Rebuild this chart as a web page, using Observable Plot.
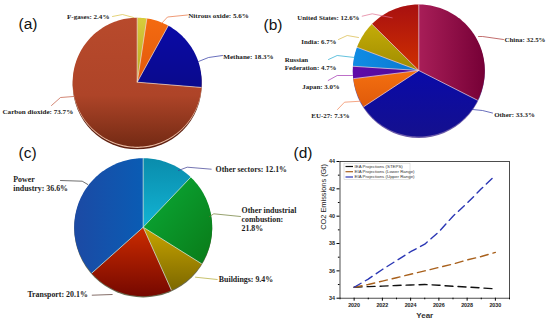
<!DOCTYPE html>
<html><head><meta charset="utf-8">
<style>html,body{margin:0;padding:0;background:#fff}#chart{position:relative;width:550px;height:324px;overflow:hidden}#chart svg{position:absolute;left:0;top:0}</style>
<script src="https://cdn.jsdelivr.net/npm/d3@7"></script>
<script src="https://cdn.jsdelivr.net/npm/@observablehq/plot@0.6"></script>
</head><body><div id="chart"></div>
<script>
// ---- data ----
const gasValues = [2.4, 5.6, 18.3, 73.7];
const gasLabels = ["F-gases: 2.4%", "Nitrous oxide: 5.6%", "Methane: 18.3%", "Carbon dioxide: 73.7%"];
const countryValues = [32.5, 33.3, 7.3, 3.0, 4.7, 6.7, 12.6];
const countryLabels = ["China: 32.5%", "Other: 33.3%", "EU-27: 7.3%", "Japan: 3.0%", "Russian\nFederation: 4.7%", "India: 6.7%", "United States: 12.6%"];
const sectorValues = [12.1, 21.8, 9.4, 20.1, 36.6];
const sectorLabels = ["Other sectors: 12.1%", "Other industrial\ncombustion:\n21.8%", "Buildings: 9.4%", "Transport: 20.1%", "Power\nindustry: 36.6%"];
const years = [2020, 2021, 2022, 2023, 2024, 2025, 2026, 2027, 2028, 2029, 2030];
const ieaSteps = [34.8, 34.85, 34.88, 34.93, 34.97, 35.0, 34.95, 34.87, 34.82, 34.75, 34.68];
const eiaLower = [34.8, 35.0, 35.25, 35.5, 35.75, 36.0, 36.25, 36.5, 36.8, 37.05, 37.35];
const eiaUpper = [34.8, 35.4, 36.1, 36.75, 37.4, 37.95, 38.85, 40.0, 40.95, 42.0, 43.0];
const seriesNames = ["IEA Projections (STEPS)", "EIA Projections (Lower Range)", "EIA Projections (Upper Range)"];

// ---- style and layout ----
const gasPaint = [["#d8cc3c","#b8a820","v"],["#f46a10","#e25a0c","v"],["#0a0aa6","#0a0a8c","v"],["#b84a2c","#742a14","v","#ae4428"]];
const countryPaint = [["#a81e58","#760036","h"],["#0a0aa8","#14108e","v"],["#f47010","#e05a0a","v"],["#600aa8","#4a0a98","h"],["#108ce4","#0a78d0","h"],["#c4ac08","#a08c00","v"],["#a81010","#d03000","v"]];
const sectorPaint = [["#0a8cac","#12b4d4","v"],["#0aac38","#0a7a18","d"],["#c8a400","#7c6800","v"],["#cc2c00","#760800","v"],["#0a5cb4","#1c4aa4","H"]];
const pies = [
  {id:"a", cx:136.7, cy:81.7, r:64.5, values:gasValues, labels:gasLabels, paint:gasPaint, edge:"#f0d8c8",
   rim:[{dy:2.6,fill:"#5e2010"},{dy:1.3,fill:"#e8b8a0"}],
   size:7.1,
   text:[[109,15.5,"end"],[187.7,15,"start"],[222.7,55.5,"start"],[2,111,"start"]],
   lead:[[[112,16],[122,14],[133,17]],[[187,14.5],[167,16.5],[161,23]],[[222,55],[208,57],[198,61]],[[51,105],[60,97],[73,96]]],
   leadColor:["#d8c040","#e8703c","#2a32a0","#c0533a"]},
  {id:"b", cx:418.3, cy:70, r:66, values:countryValues, labels:countryLabels, paint:countryPaint, edge:"#f0d0d8",
   rim:[{dy:1.4,fill:"#6a5aa8"}],
   size:6.9,
   text:[[504,38.5,"start"],[493.7,114,"start"],[330,115,"middle"],[320.5,86,"middle"],[284.3,63,"start"],[336,40.5,"end"],[359,17,"end"]],
   lead:[[[503,39],[482,36],[478,36]],[[492,112.5],[482,110],[472,109]],[[337,109],[344,101.7],[360,100.7]],[[327.7,80],[336.7,75],[352,75]],[[328,59],[336.7,55],[354,57]],[[338,39],[346.7,35],[358,37]],[[361.7,15.7],[371.7,13.3],[391.7,17.3]]],
   leadColor:["#a83030","#2a32a0","#f08050","#a030b0","#20a8d0","#d8b840","#e07090"]},
  {id:"c", cx:142.7, cy:226.7, r:69, values:sectorValues, labels:sectorLabels, paint:sectorPaint, edge:"#d8f4e8",
   rim:[{dy:1.2,fill:"#6a6a50"}],
   size:7.9,
   text:[[215,169,"start"],[241,218.5,"start"],[218.3,278.7,"start"],[87.3,293.7,"end"],[12.7,182.8,"start"]],
   lead:[[[210.7,168.7],[186.7,166.7],[178,170]],[[240,216],[213.3,213.3],[209,216]],[[216.7,279],[195,276.7]],[[91.7,294.7],[111.7,294]],[[60,180],[81.7,180.7],[87.3,184]]],
   leadColor:["#3a3a90","#6a7a30","#b0a830","#50302a","#303030"]}
];
const panelTags = [["(a)",18,24],["(b)",263,24.5],["(c)",18,153],["(d)",293,153]];

// wedge outlines come from the values through d3.pie
const wedges = [], seams = [], leaders = [], texts = [];
for (const p of pies) {
  const arcs = d3.pie().sort(null)(p.values);
  arcs.forEach((a, i) => {
    const key = p.id + i, steps = Math.ceil((a.endAngle - a.startAngle) / 0.03);
    wedges.push({key, paint: `url(#g${key})`, x: p.cx, y: p.cy});
    for (let s = 0; s <= steps; s++) {
      const t = a.startAngle + (a.endAngle - a.startAngle) * s / steps;
      wedges.push({key, paint: `url(#g${key})`, x: p.cx + p.r * Math.sin(t), y: p.cy - p.r * Math.cos(t)});
    }
    seams.push({x1: p.cx, y1: p.cy, x2: p.cx + p.r * Math.sin(a.startAngle), y2: p.cy - p.r * Math.cos(a.startAngle), edge: p.edge});
    p.lead[i].forEach(([x, y]) => leaders.push({key, x, y, color: p.leadColor[i]}));
    texts.push({label: p.labels[i], x: p.text[i][0], y: p.text[i][1], anchor: p.text[i][2], size: p.size});
  });
}

function gradientDefs() {
  const defs = d3.create("svg:defs");
  const dirs = {v:[0,0,0,1], h:[0,0,1,0], H:[1,0,0,0], d:[0,0,1,1]};
  for (const p of pies) p.paint.forEach(([c1, c2, dir, mid], i) => {
    const [x1, y1, x2, y2] = dirs[dir];
    const g = defs.append("linearGradient").attr("id", `g${p.id}${i}`)
      .attr("x1", x1).attr("y1", y1).attr("x2", x2).attr("y2", y2);
    g.append("stop").attr("offset", "0").attr("stop-color", c1);
    if (mid) g.append("stop").attr("offset", "0.6").attr("stop-color", mid);
    g.append("stop").attr("offset", "1").attr("stop-color", c2);
  });
  return defs.node();
}

const serif = "'Liberation Serif','Times New Roman',serif";
const sans = "'Liberation Sans',Arial,sans-serif";

const legendRows = seriesNames.map((name, i) => ({name, y: [166, 171.2, 176.5][i], color: ["#111", "#a8601c", "#2a36b4"][i]}));

const labelMarks = ["start", "end", "middle"].flatMap(anchor => [7.1, 6.9, 7.9].map(size =>
  Plot.text(texts.filter(d => d.size === size && d.anchor === anchor), {
    x: "x", y: "y", text: "label", textAnchor: anchor, fontWeight: "bold", fontSize: size, fill: "#1c1c1c", lineHeight: 1.16
  })));

const pieLayer = Plot.plot({
  width: 550, height: 324, margin: 0,
  x: {domain: [0, 550], range: [0, 550], axis: null},
  y: {domain: [0, 324], range: [0, 324], axis: null},
  style: {background: "transparent", fontFamily: serif},
  marks: [
    gradientDefs,
    ...pies.flatMap(p => p.rim.map(m => Plot.dot([p], {x: "cx", y: d => d.cy + m.dy, r: p.r, fill: m.fill, stroke: "none"}))),
    Plot.line(wedges, {x: "x", y: "y", z: "key", fill: {value: "paint", scale: null}, stroke: "none"}),
    Plot.link(seams, {x1: "x1", y1: "y1", x2: "x2", y2: "y2", stroke: "edge", strokeWidth: 0.8, strokeOpacity: 0.9}),
    Plot.line(leaders, {x: "x", y: "y", z: "key", stroke: "color", strokeWidth: 0.7, curve: "linear"}),
    ...labelMarks,
    Plot.text(panelTags, {x: d => d[1], y: d => d[2], text: d => d[0], textAnchor: "start", fontSize: 15.5, fontFamily: sans, fill: "#111"}),
    Plot.rect([0], {x1: () => 344, x2: () => 410, y1: () => 163.2, y2: () => 179.3, fill: "#fff", stroke: "#c8c8c8", strokeWidth: 0.5}),
    Plot.link(legendRows, {x1: () => 345, x2: () => 352.5, y1: "y", y2: "y", stroke: "color", strokeWidth: 1.2}),
    Plot.text(legendRows, {x: () => 354, y: "y", text: "name", textAnchor: "start", fontSize: 4.4, fontFamily: sans, fill: "#333"})
  ]
});

const rows = (name, values, color) => years.map((year, i) => ({year, value: values[i], name, color}));
const lineData = [
  ...rows(seriesNames[0], ieaSteps, "#111"),
  ...rows(seriesNames[1], eiaLower, "#a8601c"),
  ...rows(seriesNames[2], eiaUpper, "#2a36b4")
];

const linePlot = Plot.plot({
  width: 550, height: 324,
  marginLeft: 339.5, marginRight: 41, marginTop: 161, marginBottom: 26.3,
  x: {domain: [2019, 2031], label: null},
  y: {domain: [34, 44], label: null},
  style: {background: "transparent", fontFamily: sans},
  marks: [
    Plot.frame({stroke: "#222", strokeWidth: 0.8}),
    Plot.axisX(d3.range(2020, 2031, 2), {tickFormat: d => String(d), tickSize: 3, tickPadding: 2, fontSize: 5.4, fontWeight: "bold", label: null, fill: "#222"}),
    Plot.axisX(d3.range(2019, 2032, 2), {tickFormat: () => "", tickSize: 1.6, label: null}),
    Plot.axisY(d3.range(34, 45, 2), {tickFormat: d => String(d), tickSize: 3, tickPadding: 2, fontSize: 5.4, fontWeight: "bold", label: null, fill: "#222"}),
    Plot.axisY(d3.range(35, 44, 2), {tickFormat: () => "", tickSize: 1.6, label: null}),
    Plot.line(lineData, {x: "year", y: "value", z: "name", stroke: {value: "color", scale: null}, strokeWidth: 1.4, strokeDasharray: "8 5"}),
    Plot.text(["Year"], {frameAnchor: "bottom", dy: 20, fontSize: 8, fontWeight: "bold", fill: "#333"}),
    Plot.text(["CO2 Emissions (Gt)"], {frameAnchor: "left", dx: -16, rotate: -90, fontSize: 7.4, fill: "#222"})
  ]
});

document.getElementById("chart").append(pieLayer, linePlot);
</script></body></html>
